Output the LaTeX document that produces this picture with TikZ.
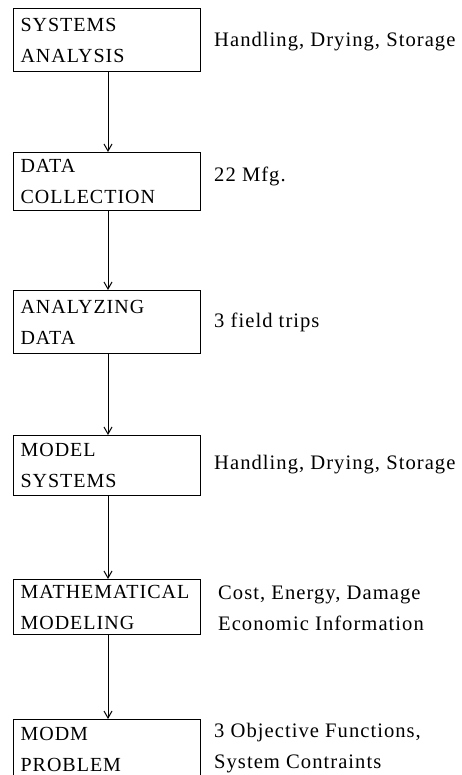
\documentclass[tikz,border=0pt]{standalone}
\usepackage{fontspec}
\setmainfont{Liberation Serif}[LetterSpace=5]
\usetikzlibrary{arrows.meta}
\tikzset{
  stepbox/.style={draw, line width=1.1pt, minimum width=187pt, text width=173pt,
    inner xsep=7pt, inner ysep=0pt, align=left, anchor=north west,
    font=\fontsize{20}{31}\selectfont},
  sidelabel/.style={anchor=west, inner sep=0pt, align=left, font=\fontsize{20.6}{31}\selectfont},
  flow/.style={line width=0.8pt, -{Straight Barb[length=7pt,width=8pt,line width=1pt]}}
}
\begin{document}
\begin{tikzpicture}[x=1pt,y=-1pt]
\clip (0,0) rectangle (462,775);
\fill[white] (0,0) rectangle (462,775);
\node[stepbox, minimum height=63pt] (b1) at (13,8) {SYSTEMS\\ANALYSIS};
\node[stepbox, minimum height=58pt] (b2) at (13,152) {DATA\\COLLECTION};
\node[stepbox, minimum height=63pt] (b3) at (13,290) {ANALYZING\\DATA};
\node[stepbox, minimum height=60pt] (b4) at (13,435) {MODEL\\SYSTEMS};
\node[stepbox, minimum height=55pt] (b5) at (13,579) {MATHEMATICAL\\MODELING};
\node[stepbox, minimum height=59pt] (b6) at (13,719) {MODM\\PROBLEM};

\node[sidelabel] (l1) at (214,42) {Handling, Drying, Storage};
\node[sidelabel] (l2) at (214,176) {22 Mfg.};
\node[sidelabel] (l3) at (214,322) {3 field trips};
\node[sidelabel] (l4) at (214,465) {Handling, Drying, Storage};
\node[sidelabel] (l5) at (218,608) {Cost, Energy, Damage\\Economic Information};
\node[sidelabel] (l6) at (214,748) {3 Objective Functions,\\System Contraints};

\draw[flow] (b1.south -| 108,0) -- (b2.north -| 108,0);
\draw[flow] (b2.south -| 108,0) -- (b3.north -| 108,0);
\draw[flow] (b3.south -| 108,0) -- (b4.north -| 108,0);
\draw[flow] (b4.south -| 108,0) -- (b5.north -| 108,0);
\draw[flow] (b5.south -| 108,0) -- (b6.north -| 108,0);
\end{tikzpicture}
\end{document}
